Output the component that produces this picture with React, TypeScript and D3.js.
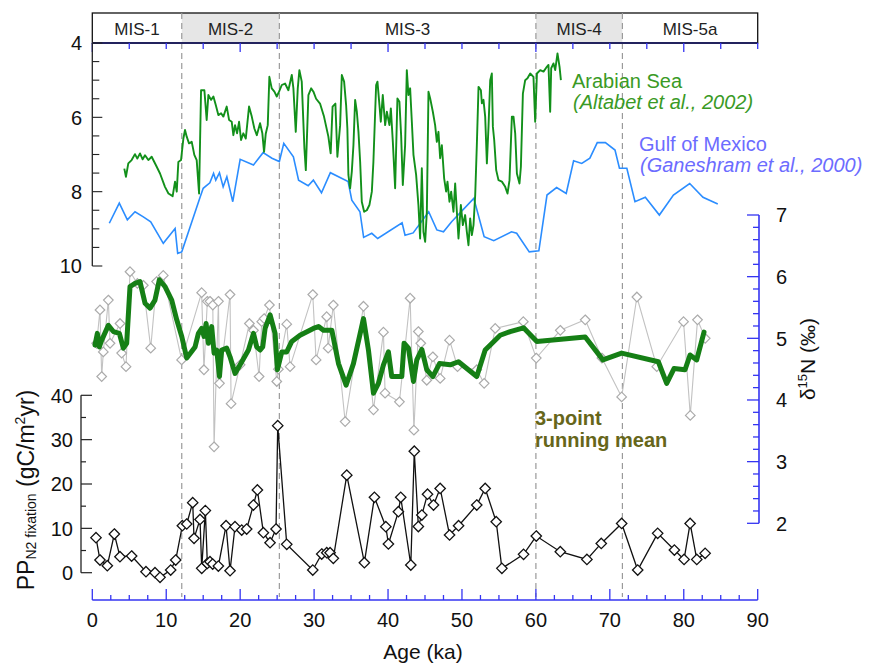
import * as d3 from 'd3';

// MIS stages along the age axis
const misNames = ['MIS-1', 'MIS-2', 'MIS-3', 'MIS-4', 'MIS-5a'];
const misEdges = [0, 12.1, 25.3, 60, 71.7, 90];
const misGlacial = [false, true, false, true, false];

const ageTicks = [0, 10, 20, 30, 40, 50, 60, 70, 80, 90];
const topTicks = [4, 6, 8, 10];
const d15nTicks = [2, 3, 4, 5, 6, 7];
const ppTicks = [0, 10, 20, 30, 40];

// Arabian Sea d15N (Altabet et al., 2002)
const arabianAge = [4.33, 4.55, 4.87, 5.32, 5.77, 6.09, 6.45, 6.81, 7.13, 7.58, 8.03, 8.61, 9.16, 9.83, 10.3, 10.87,
  11.19, 11.42, 11.64, 12.0, 12.32, 12.54, 12.77, 13.08, 13.45, 13.8, 14.12, 14.44, 14.71, 15.16, 15.47, 15.7, 16.06, 16.38, 16.7, 17.05, 17.42, 17.73, 18.18, 18.5, 18.86, 19.08, 19.31, 19.58, 19.85, 20.12, 20.43, 20.76, 21.2, 21.57, 21.92, 22.25, 22.69, 23.0, 23.23, 23.46, 23.73, 23.95, 24.27, 24.63, 24.95, 25.26, 25.63, 26.07, 26.52, 26.98, 27.2, 27.52, 27.79, 28.01, 28.33, 28.69, 28.88, 29.23, 29.6, 29.91,
  30.27, 30.8, 31.34, 31.93, 32.24, 32.5, 32.88, 33.15, 33.52,
  33.75, 34.06, 34.33, 34.5, 34.64, 34.87, 35.1, 35.32, 35.55, 35.78, 36.0, 36.23, 36.45, 36.77, 37.13, 37.48, 37.81, 38.02, 38.39, 38.57, 38.84, 39.02, 39.29, 39.61, 39.84, 40.19, 40.38, 40.65, 40.96, 41.27, 41.54, 41.77, 42.0, 42.31, 42.54, 42.76, 42.99, 43.22, 43.44, 43.8, 44.11, 44.34, 44.57, 44.79, 45.02, 45.25, 45.47, 45.7, 46.06, 46.37, 46.6, 46.82, 47.05, 47.28, 47.59, 47.86, 48.04, 48.31, 48.54, 48.85, 49.08, 49.31, 49.53, 49.85, 50.12, 50.43, 50.66, 50.88, 51.11, 51.34, 51.56, 51.79, 52.01,
  52.24, 52.56, 52.69, 52.91, 53.14, 53.37, 53.59, 53.82, 54.04, 54.18, 54.36, 54.63, 54.94, 55.4, 55.85, 56.16, 56.43, 56.75, 56.97, 57.2, 57.43, 57.78, 57.97, 58.24, 58.55, 58.86, 59.23, 59.67, 59.9, 60.14, 60.58, 61.03, 61.48, 61.7, 61.93, 62.07, 62.38, 62.61, 62.92, 63.2, 63.38];
const arabianVal = [7.38, 7.6, 7.24, 7.15, 6.99, 7.11, 6.97, 7.13, 7.02, 7.15, 7.06, 7.29, 7.51, 7.87, 8.05, 8.12,
  7.73, 8.0, 7.2, 7.15, 6.57, 6.34, 6.52, 6.7, 6.66, 7.01, 7.15, 8.05, 5.27, 5.27, 6.07, 5.4, 5.53, 5.44, 5.67, 5.94, 5.89, 5.98, 5.71, 6.07, 6.12, 6.48, 6.21, 6.43, 6.12, 6.61, 6.43, 6.57, 5.71, 5.98, 6.3, 6.48, 6.16, 6.43, 6.93, 6.44, 6.21, 4.91, 5.22, 5.31, 5.44, 5.31, 5.13, 5.09, 5.27, 4.86, 5.22, 6.39, 5.22, 4.73, 5.04, 6.84, 7.42, 5.4, 5.22, 5.31,
  5.5, 5.63, 5.98, 6.52, 6.97, 5.71, 5.63, 7.06, 6.21,
  4.86, 5.04, 5.67, 6.3, 7.55, 7.91, 7.46, 6.75, 5.53, 5.85, 6.39, 7.2, 8.27, 8.54, 8.5, 8.36, 8.0, 7.2, 5.13, 5.04, 5.67, 6.12, 5.4, 6.21, 5.85, 6.21, 5.76, 6.66, 7.91, 5.49, 5.58, 6.48, 7.82, 6.75, 4.73, 5.4, 5.22, 6.12, 7.01, 7.55, 8.36, 9.26, 7.37, 9.08, 9.35, 8.54, 5.31, 5.49, 5.85, 6.21, 6.66, 6.39, 7.1, 6.75, 7.64, 8.0, 7.73, 8.27, 8.0, 8.54, 7.78, 8.54, 9.26, 8.36, 8.9, 8.63, 9.08, 9.44, 8.72, 9.17, 8.9, 8.09, 6.75,
  5.18, 5.27, 5.62, 5.53, 5.98, 7.24, 6.25, 5.0, 4.82, 6.25, 6.61, 7.42, 7.69, 7.73, 7.87, 8.05, 7.69, 5.98, 5.98, 6.43, 7.51, 7.78, 7.33, 5.36, 5.0, 4.95, 4.82, 4.91, 6.12, 4.82, 4.73, 4.77, 4.64, 4.59, 5.85, 4.68, 4.55, 4.73, 4.28, 4.64, 5.0];

// Gulf of Mexico d15N (Ganeshram et al., 2000)
const gulfAge = [2.3, 3.65, 4.74, 5.78, 6.9, 7.9, 9.6, 11.2, 11.55, 12.1, 14.6, 15.0, 15.9, 16.4, 16.7, 17.2, 17.7, 18.2, 19.0, 20.0, 21.8, 23.1, 24.3, 25.3, 25.9, 27.2, 27.9, 29.2, 29.9, 31.0, 32.2, 34.6, 35.1, 36.2, 36.7, 37.8, 38.6, 41.9, 42.3, 43.4, 45.5, 46.6, 47.5, 48.6, 51.6, 53.0, 54.3, 56.7, 57.4, 59.1, 60.4, 61.5, 62.8, 64.1, 65.1, 66.2, 67.3, 68.3, 69.4, 70.7, 71.3, 72.3, 73.4, 74.8, 76.7, 78.6, 80.8, 82.6, 84.6];
const gulfVal = [8.85, 8.31, 8.76, 8.54, 8.68, 8.81, 9.39, 8.99, 9.66, 9.62, 8.14, 7.91, 7.76, 7.51, 7.69, 7.49, 7.87, 7.6, 8.27, 7.13, 7.28, 6.95, 7.1, 7.19, 6.7, 7.06, 7.69, 7.84, 7.69, 8.03, 7.49, 7.73, 8.23, 8.54, 9.23, 9.12, 9.26, 8.84, 9.17, 9.11, 8.54, 9.03, 9.08, 8.81, 8.18, 9.21, 9.32, 9.08, 9.12, 9.62, 9.59, 8.09, 7.89, 8.05, 7.17, 7.24, 7.1, 6.68, 6.68, 6.88, 7.37, 7.37, 8.27, 8.15, 8.63, 8.09, 7.78, 8.15, 8.33];

// this core, bulk d15N (gray diamonds)
const coreAge = [0.59, 1.04, 1.27, 1.49, 2.17, 2.4, 3.75, 3.97, 4.56, 5.1, 6.1, 6.9, 7.9, 8.7, 9.6, 12.08, 14.79, 15.1, 15.56, 15.92, 16.3, 16.47, 17.06, 17.2, 18.63, 18.77, 19.99, 21.25, 21.8, 22.56, 22.92, 23.24, 23.96, 24.95, 25.17, 26.3, 26.75, 29.82, 30.27, 31.7, 31.9, 32.6, 34.2, 36.68, 38.03, 39.38, 39.6, 41.54, 42.99, 43.5, 44.1, 44.43, 45.24, 46.06, 47.05, 48.32, 49.4, 52.0, 53.0, 54.5, 58.3, 60.05, 63.3, 66.67, 68.93, 71.6, 73.66, 76.35, 79.97, 80.88, 81.86, 82.9];
const coreVal = [4.92, 5.46, 4.38, 4.78, 5.62, 4.92, 5.24, 4.76, 4.54, 6.08, 5.89, 5.86, 4.84, 5.92, 6.02, 4.65, 5.74, 4.49, 5.6, 5.6, 5.54, 3.24, 5.6, 4.27, 5.71, 3.94, 4.57, 5.24, 5.13, 4.38, 5.27, 5.32, 5.54, 4.3, 4.5, 5.23, 4.54, 5.71, 4.65, 5.35, 4.84, 5.54, 3.65, 5.52, 3.84, 5.1, 4.11, 3.97, 5.65, 3.51, 5.11, 4.92, 4.32, 4.7, 4.35, 4.97, 4.54, 4.49, 4.27, 5.16, 5.27, 4.68, 5.13, 5.3, 4.68, 4.05, 5.67, 4.54, 5.27, 3.75, 5.3, 5.0];

// 3-point running mean
const meanAge = [0.37, 0.68, 0.95, 1.27, 2.17, 2.85, 3.66, 4.2, 4.65, 5.1, 5.78, 6.45, 7.13, 7.81, 8.48, 9.07, 9.84, 10.74, 11.42, 12.1, 12.77, 13.9, 14.35, 14.8, 15.12, 15.39, 15.7, 16.15, 16.47, 16.83, 17.2, 17.5, 18.18, 18.63, 19.31, 20.22, 21.12, 21.8, 22.24, 22.69, 23.05, 23.37, 24.05, 24.72, 25.04, 25.63, 26.3, 26.98, 28.1, 29.9, 30.6, 31.26, 32.4, 33.3, 34.33, 35.32, 36.68, 37.35, 38.03, 38.7, 39.38, 40.05, 40.5, 41.18, 41.86, 42.17, 42.76, 43.2, 43.44, 43.89, 44.57, 45.24, 46.06, 46.96, 48.41, 49.53, 52.0, 53.14, 55.17, 56.52, 58.33, 60.13, 66.67, 69.06, 71.6, 76.56, 77.69, 78.68, 80.17, 80.85, 81.75, 82.74];
const meanVal = [4.89, 5.08, 4.86, 4.97, 5.21, 5.11, 5.08, 4.84, 4.92, 5.84, 5.89, 5.92, 5.57, 5.49, 5.62, 5.95, 5.84, 5.62, 5.3, 5.03, 4.68, 4.86, 5.08, 5.16, 5.03, 5.24, 4.92, 5.19, 4.76, 4.81, 4.38, 4.81, 4.84, 4.7, 4.43, 4.62, 4.81, 5.08, 4.86, 4.81, 4.86, 5.16, 5.38, 5.08, 4.49, 4.78, 4.78, 4.95, 5.05, 5.16, 5.19, 5.13, 5.13, 4.59, 4.24, 4.59, 5.32, 4.81, 4.11, 4.27, 4.57, 4.78, 4.38, 4.38, 4.38, 4.92, 4.84, 4.49, 4.3, 4.65, 4.82, 4.49, 4.38, 4.59, 4.57, 4.62, 4.38, 4.81, 5.05, 5.11, 5.17, 4.95, 5.02, 4.65, 4.76, 4.62, 4.27, 4.51, 4.49, 4.73, 4.65, 5.1];

// PP from N2 fixation (gC/m2yr)
const ppAge = [0.5, 1.04, 2.03, 2.98, 3.74, 5.32, 7.26, 8.48, 9.16, 10.6, 11.28, 12.18, 12.77, 13.58, 13.76, 14.57, 14.8, 15.29, 15.56, 15.92, 16.28, 17.05, 18.09, 18.63, 19.3, 20.21, 20.88, 21.79, 22.33, 23.14, 24.04, 24.85, 25.08, 26.3, 29.82, 31.03, 31.71, 32.16, 32.6, 34.42, 36.8, 38.16, 39.7, 40.05, 41.4, 41.72, 43.08, 43.55, 44.1, 44.57, 45.34, 46.15, 47.05, 48.32, 49.54, 52.0, 53.14, 54.63, 55.4, 58.33, 60.05, 63.3, 66.9, 68.84, 71.6, 73.77, 76.47, 78.73, 80.04, 80.86, 81.76, 82.89];
const ppVal = [7.9, 2.86, 1.58, 8.72, 3.61, 3.76, 0.23, 0, -1.05, 0.6, 2.86, 10.6, 10.98, 15.8, 7.74, 12.0, 0.98, 14.0, 2.1, 2.48, 1.95, 1.5, 10.6, 0.45, 10.38, 9.62, 9.85, 15.26, 18.65, 9.02, 6.77, 9.85, 33.16, 6.39, 0.6, 4.21, 4.51, 4.51, 3.23, 22.0, 2.26, 17.0, 10.38, 6.47, 13.76, 17.0, 1.73, 27.4, 10.4, 13.0, 17.7, 15.26, 19.0, 8.5, 10.6, 15.26, 19.0, 11.5, 0.98, 4.14, 8.27, 4.74, 3.0, 6.6, 11.1, 0.6, 8.87, 5.1, 3.0, 11.1, 3.0, 4.36];

const font = '"Liberation Sans", Arial, Helvetica, sans-serif';
const axisBlue = '#3434f2';

const zip = (a: number[], b: number[]): [number, number][] => a.map((v, i) => [v, b[i]]);
const diamond = (r: number) => `M0,${-r}L${r},0L0,${r}L${-r},0Z`;

export default function App() {
  const x = d3.scaleLinear().domain([0, 90]).range([92.3, 757.7]);
  const yTop = d3.scaleLinear().domain([4, 10]).range([43, 266]);
  const yN = d3.scaleLinear().domain([2, 7]).range([523.3, 215]);
  const yPP = d3.scaleLinear().domain([0, 40]).range([572.7, 395.3]);

  const lineOf = (ys: d3.ScaleLinear<number, number>) =>
    d3.line<[number, number]>().x(d => x(d[0])).y(d => ys(d[1]));

  const arabian = zip(arabianAge, arabianVal);
  const gulf = zip(gulfAge, gulfVal);
  const core = zip(coreAge, coreVal);
  const mean = zip(meanAge, meanVal);
  const pp = zip(ppAge, ppVal);

  const bandTop = 13;
  const bandBot = yTop(4);
  const xAxisY = 600;
  const rightX = 759;

  const isInt = (v: number) => Math.abs(v - Math.round(v)) < 1e-6;

  return (
    <svg width={894} height={664} style={{ position: 'absolute', left: 0, top: 0, background: '#fff' }}
      fontFamily={font}>
      {/* MIS band */}
      {misNames.map((m, i) => (
        <g key={m}>
          {misGlacial[i] && (
            <rect x={x(misEdges[i])} y={bandTop} width={x(misEdges[i + 1]) - x(misEdges[i])}
              height={bandBot - bandTop} fill="#e6e6e6" />
          )}
          <text x={(x(misEdges[i]) + x(misEdges[i + 1])) / 2} y={35} textAnchor="middle"
            fontSize={17} fill="#222">{m}</text>
        </g>
      ))}
      <rect x={x(0)} y={bandTop} width={x(90) - x(0)} height={bandBot - bandTop}
        fill="none" stroke="#111" strokeWidth={1.3} />

      {/* stage boundaries */}
      {misEdges.slice(1, -1).map(e => (
        <line key={e} x1={x(e)} x2={x(e)} y1={bandTop} y2={597}
          stroke="#9a9a9a" strokeWidth={1.2} strokeDasharray="6,4" />
      ))}

      {/* top axis */}
      <line x1={x(0)} x2={x(90)} y1={bandBot} y2={bandBot} stroke="#23235e" strokeWidth={2} />
      {d3.range(0, 90.01, 5).map(t => (
        <line key={t} x1={x(t)} x2={x(t)} y1={bandBot} y2={bandBot + (t % 20 === 0 ? 9 : 6)}
          stroke={axisBlue} strokeWidth={1.3} />
      ))}

      {/* top left axis */}
      <line x1={x(0)} x2={x(0)} y1={yTop(4)} y2={yTop(10)} stroke="#222" strokeWidth={1.3} />
      {d3.range(4, 10.01, 0.5).map(t => (
        <line key={t} x1={x(0)} x2={x(0) + (t % 2 === 0 ? 10 : 7)} y1={yTop(t)} y2={yTop(t)}
          stroke="#222" strokeWidth={1.1} />
      ))}
      {topTicks.map(t => (
        <text key={t} x={82} y={yTop(t)} dy="0.36em" textAnchor="end" fontSize={20} fill="#111">{t}</text>
      ))}

      {/* Gulf of Mexico and Arabian Sea */}
      <path d={lineOf(yTop)(gulf) ?? ''} fill="none" stroke="#2b8dff" strokeWidth={1.6} />
      <path d={lineOf(yTop)(arabian) ?? ''} fill="none" stroke="#12901a" strokeWidth={1.9}
        strokeLinejoin="round" />

      <text x={572} y={88} fontSize={20} fill="#3a9a25">Arabian Sea</text>
      <text x={573} y={109} fontSize={20} fill="#3a9a25" fontStyle="italic">(Altabet et al., 2002)</text>
      <text x={639} y={151} fontSize={20} fill="#6c6cff">Gulf of Mexico</text>
      <text x={640} y={172} fontSize={20} fill="#6c6cff" fontStyle="italic">(Ganeshram et al., 2000)</text>

      {/* right d15N axis */}
      <line x1={rightX} x2={rightX} y1={yN(7)} y2={yN(2)} stroke={axisBlue} strokeWidth={1.6} />
      {d3.range(2, 7.001, 0.2).map(t => (
        <line key={t} x1={rightX} x2={rightX - (isInt(t) ? 12 : 6)} y1={yN(t)} y2={yN(t)}
          stroke={axisBlue} strokeWidth={1.3} />
      ))}
      {d15nTicks.map(t => (
        <text key={t} x={776} y={yN(t)} dy="0.36em" fontSize={20} fill="#111">{t}</text>
      ))}
      <text transform="translate(815,359) rotate(-90)" textAnchor="middle" fontSize={21} fill="#111">
        δ<tspan fontSize={13} dy={-8}>15</tspan><tspan dy={8}>N (‰)</tspan>
      </text>

      {/* core d15N and its running mean */}
      <path d={lineOf(yN)(core) ?? ''} fill="none" stroke="#c2c2c2" strokeWidth={1.1} />
      {core.map((d, i) => (
        <path key={i} d={diamond(4.8)} transform={`translate(${x(d[0])},${yN(d[1])})`}
          fill="#fff" stroke="#ababab" strokeWidth={1.2} />
      ))}
      <path d={lineOf(yN)(mean) ?? ''} fill="none" stroke="#157f15" strokeWidth={5}
        strokeLinejoin="round" strokeLinecap="round" />
      <text x={535} y={425} fontSize={20} fontWeight="bold" fill="#66661a">3-point</text>
      <text x={535} y={447} fontSize={20} fontWeight="bold" fill="#66661a">running mean</text>

      {/* PP N2 fixation axis */}
      <line x1={81} x2={81} y1={yPP(0)} y2={yPP(40)} stroke="#222" strokeWidth={1.3} />
      {d3.range(0, 40.01, 5).map(t => (
        <line key={t} x1={81} x2={81 + (t % 10 === 0 ? 11 : 5)} y1={yPP(t)} y2={yPP(t)}
          stroke="#222" strokeWidth={1.2} />
      ))}
      {ppTicks.map(t => (
        <text key={t} x={73} y={yPP(t)} dy="0.36em" textAnchor="end" fontSize={20} fill="#111">{t}</text>
      ))}
      <text transform="translate(34,490) rotate(-90)" textAnchor="middle" fontSize={23} fill="#111">
        PP<tspan fontSize={14} dy={2}>N2 fixation</tspan><tspan dy={-2}> (gC/m</tspan>
        <tspan fontSize={14} dy={-9}>2</tspan><tspan dy={9}>yr)</tspan>
      </text>

      <path d={lineOf(yPP)(pp) ?? ''} fill="none" stroke="#111" strokeWidth={1.3} />
      {pp.map((d, i) => (
        <path key={i} d={diamond(5.2)} transform={`translate(${x(d[0])},${yPP(d[1])})`}
          fill="#fff" stroke="#111" strokeWidth={1.3} />
      ))}

      {/* age axis */}
      <line x1={x(0)} x2={x(90)} y1={xAxisY} y2={xAxisY} stroke={axisBlue} strokeWidth={1.6} />
      {d3.range(0, 90.01, 2.5).map(t => (
        <line key={t} x1={x(t)} x2={x(t)} y1={xAxisY} y2={xAxisY - (t % 10 === 0 ? 11 : 5)}
          stroke={axisBlue} strokeWidth={1.3} />
      ))}
      {ageTicks.map(t => (
        <text key={t} x={x(t)} y={627} textAnchor="middle" fontSize={20} fill="#111">{t}</text>
      ))}
      <text x={423} y={659} textAnchor="middle" fontSize={21} fill="#111">Age (ka)</text>
    </svg>
  );
}
